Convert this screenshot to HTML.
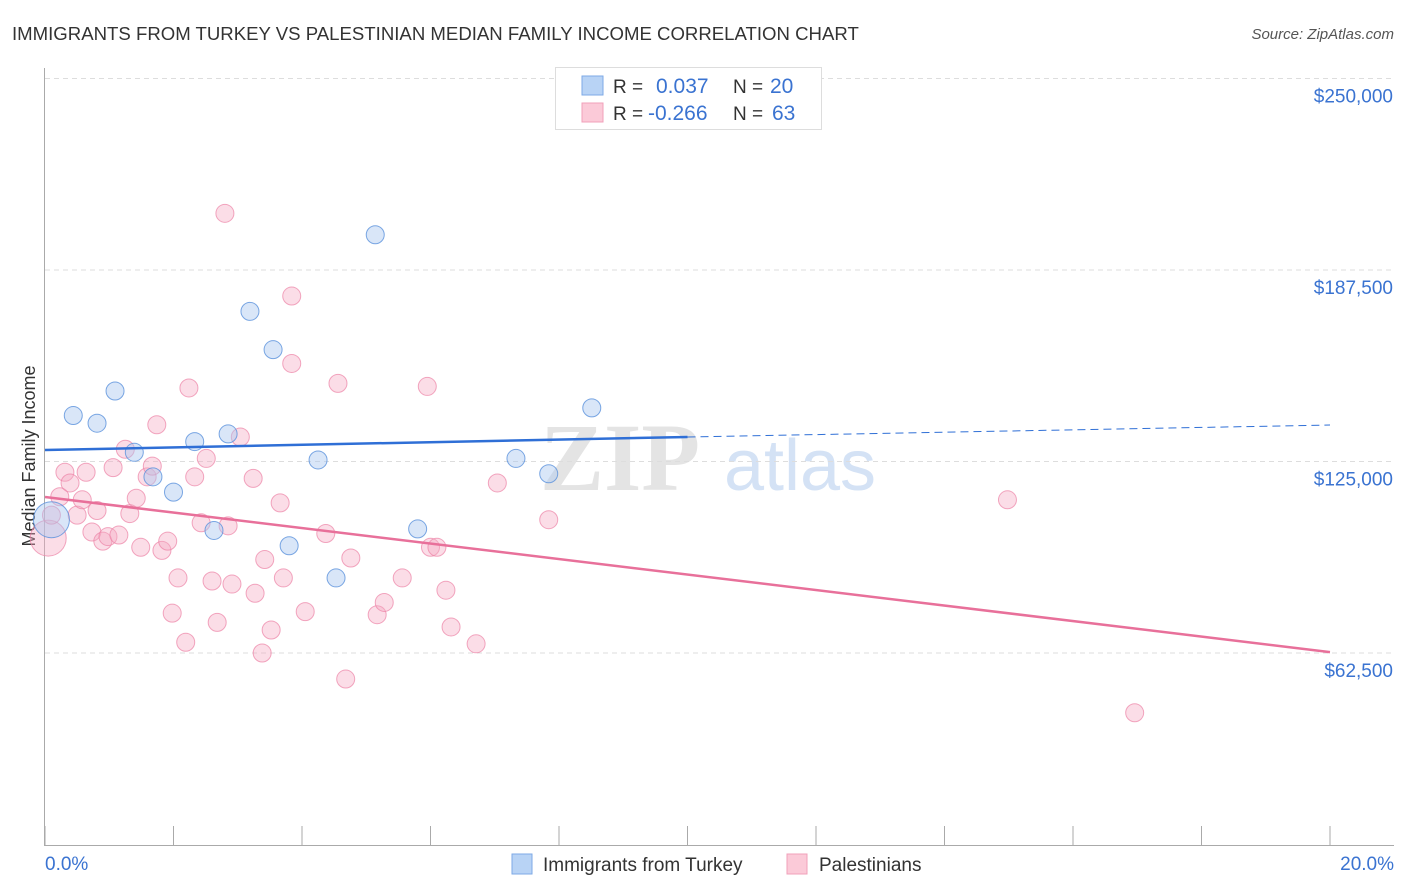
<!DOCTYPE html>
<html><head><meta charset="utf-8">
<style>
body{margin:0;background:#fff;font-family:"Liberation Sans",sans-serif;}
#wrap{position:relative;width:1406px;height:892px;overflow:hidden;}
</style></head>
<body>
<div id="wrap">
<svg id="chart" width="1406" height="892" xmlns="http://www.w3.org/2000/svg">
<text x="12" y="40" font-size="18.6" fill="#333">IMMIGRANTS FROM TURKEY VS PALESTINIAN MEDIAN FAMILY INCOME CORRELATION CHART</text>
<text x="1394" y="39" font-size="15" fill="#555" font-style="italic" text-anchor="end">Source: ZipAtlas.com</text>
<text x="35" y="456" font-size="18" fill="#333" text-anchor="middle" transform="rotate(-90 35 456)">Median Family Income</text>
<text x="620" y="490" font-size="96" fill="#e4e4e4" font-family="Liberation Serif" text-anchor="middle" font-weight="bold">ZIP</text>
<text x="800" y="490" font-size="72" fill="#d4e2f5" text-anchor="middle">atlas</text>
<g id="grid"></g><g id="axes"></g><g id="pts"></g><g id="lines"></g>
<g>
<rect x="555.5" y="67.5" width="266" height="62" fill="#fff" stroke="#ddd"/>
<rect x="582" y="76" width="21" height="19" fill="#b8d3f5" stroke="#7eaae6"/>
<rect x="582" y="103" width="21" height="19" fill="#fbcad8" stroke="#f0a0ba"/>
<text x="613" y="93" font-size="19" fill="#333">R = </text><text x="656" y="93" font-size="21" fill="#3a73d1">0.037</text>
<text x="733" y="93" font-size="19" fill="#333">N = </text><text x="770" y="93" font-size="21" fill="#3a73d1">20</text>
<text x="613" y="120" font-size="19" fill="#333">R = </text><text x="648" y="120" font-size="21" fill="#3a73d1">-0.266</text>
<text x="733" y="120" font-size="19" fill="#333">N = </text><text x="772" y="120" font-size="21" fill="#3a73d1">63</text>
</g>
<g>
<rect x="512" y="854" width="20" height="20" fill="#b8d3f5" stroke="#7eaae6"/>
<text x="543" y="871" font-size="19" fill="#333">Immigrants from Turkey</text>
<rect x="787" y="854" width="20" height="20" fill="#fbcad8" stroke="#f0a0ba"/>
<text x="819" y="871" font-size="19" fill="#333">Palestinians</text>
</g>
</svg>
</div>
<script>
const yTicks=[62500,125000,187500,250000];
const yTickLabels=["$62,500","$125,000","$187,500","$250,000"];
const xTicks=[0,2,4,6,8,10,12,14,16,18,20];
const turkeyX=[0.1,0.44,0.81,1.09,1.39,1.68,2.0,2.33,2.63,2.85,3.19,3.55,3.8,4.25,4.53,5.14,5.8,7.33,7.84,8.51];
const turkeyY=[106000,140000,137500,148000,128000,120000,115000,131500,102500,134000,174000,161500,97500,125500,87000,199000,103000,126000,121000,142500];
const turkeyR=[18,9,9,9,9,9,9,9,9,9,9,9,9,9,9,9,9,9,9,9];
const palX=[0.05,0.1,0.23,0.31,0.39,0.5,0.58,0.64,0.73,0.81,0.9,0.98,1.06,1.15,1.25,1.32,1.42,1.49,1.59,1.67,1.74,1.82,1.91,1.98,2.07,2.19,2.24,2.33,2.43,2.51,2.6,2.68,2.8,2.85,2.91,3.04,3.24,3.27,3.38,3.42,3.52,3.66,3.71,3.84,3.84,4.05,4.37,4.56,4.68,4.76,5.17,5.28,5.56,5.95,6.0,6.1,6.24,6.32,6.71,7.04,7.84,14.98,16.96];
const palY=[100000,107500,113500,121500,118000,107500,112500,121500,102000,109000,99000,100500,123000,101000,129000,108000,113000,97000,120000,123500,137000,96000,99000,75500,87000,66000,149000,120000,105000,126000,86000,72500,206000,104000,85000,133000,119500,82000,62500,93000,70000,111500,87000,179000,157000,76000,101500,150500,54000,93500,75000,79000,87000,149500,97000,97000,83000,71000,65500,118000,106000,112500,43000];
const palR=palX.map((_,i)=>i===0?18:9);
const trendTurkey=[0,128750,10,133000,20,136900];
const trendPal=[0,113400,20,62800];

const NS="http://www.w3.org/2000/svg";
const X=p=>45+p/20*1285;
const Y=v=>653-(v-62500)/62500*191.5;
function mk(tag,attrs,parent){const e=document.createElementNS(NS,tag);for(const k in attrs)e.setAttribute(k,attrs[k]);parent.appendChild(e);return e;}
const grid=document.getElementById('grid'),axes=document.getElementById('axes'),pts=document.getElementById('pts'),lines=document.getElementById('lines');
yTicks.forEach((v,i)=>{
 const l=mk('line',{x1:45,x2:1394,y1:Y(v),y2:Y(v),stroke:'#ddd','stroke-dasharray':'5,4'},grid);
 
 
 const t=mk('text',{x:1393,y:Y(v)+24,'font-size':19,fill:'#3a73d1','text-anchor':'end'},axes);
 t.textContent=yTickLabels[i];
 
 
});
const ya=mk('line',{x1:44.5,x2:44.5,y1:68,y2:845,stroke:'#aaa'},axes);


const xa=mk('line',{x1:44,x2:1394,y1:845.5,y2:845.5,stroke:'#aaa'},axes);


xTicks.forEach(p=>{
 const t=mk('line',{x1:X(p),x2:X(p),y1:826,y2:845,stroke:'#aaa'},axes);
 
 
});
const xl0=mk('text',{x:45,y:870,'font-size':19,fill:'#3a73d1'},axes);
xl0.textContent=xTicks[0].toFixed(1)+'%';


const xl1=mk('text',{x:1394,y:870,'font-size':19,fill:'#3a73d1','text-anchor':'end'},axes);
xl1.textContent=xTicks[xTicks.length-1].toFixed(1)+'%';


palX.forEach((p,i)=>{
 const c=mk('circle',{cx:X(p),cy:Y(palY[i]),r:palR[i],fill:'rgba(246,170,195,0.4)',stroke:'rgba(236,130,165,0.7)','stroke-width':1},pts);
 
 
});
turkeyX.forEach((p,i)=>{
 const c=mk('circle',{cx:X(p),cy:Y(turkeyY[i]),r:turkeyR[i],fill:'rgba(170,200,240,0.45)',stroke:'rgba(90,145,220,0.8)','stroke-width':1},pts);
 
 
});
const tb=mk('line',{x1:X(trendTurkey[0]),y1:Y(trendTurkey[1]),x2:X(trendTurkey[2]),y2:Y(trendTurkey[3]),stroke:'#2f6fd6','stroke-width':2.5},lines);


const tbd=mk('line',{x1:X(trendTurkey[2]),y1:Y(trendTurkey[3]),x2:X(trendTurkey[4]),y2:Y(trendTurkey[5]),stroke:'#2f6fd6','stroke-width':1,'stroke-dasharray':'8,5'},lines);


const tp=mk('line',{x1:X(trendPal[0]),y1:Y(trendPal[1]),x2:X(trendPal[2]),y2:Y(trendPal[3]),stroke:'#e8709a','stroke-width':2.5},lines);


</script>
</body></html>
